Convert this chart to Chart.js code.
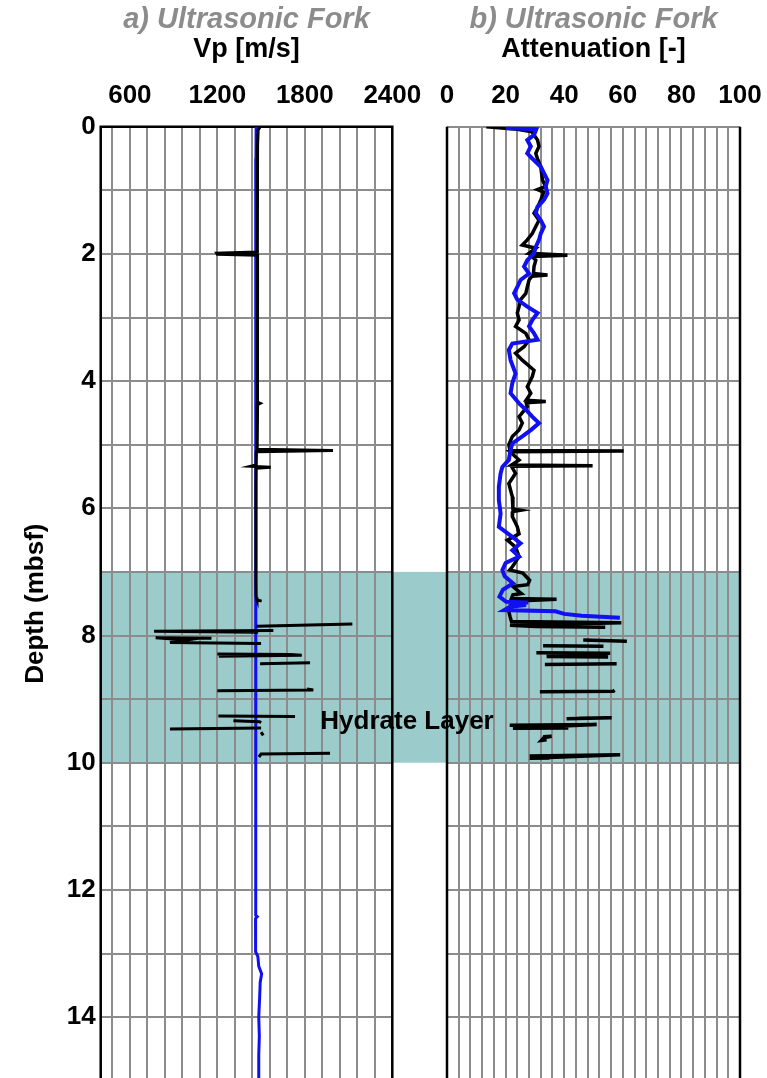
<!DOCTYPE html>
<html>
<head>
<meta charset="utf-8">
<script src="https://cdn.jsdelivr.net/npm/chart.js@4.4.1/dist/chart.umd.min.js"></script>
<style>
html, body { margin: 0; padding: 0; background: #fff; overflow: hidden; }
#wrap { position: relative; width: 767px; height: 1078px; overflow: hidden; }
canvas { position: absolute; top: 0; }
#vp { left: 0; }
#att { left: 300px; }
</style>
</head>
<body>
<div id="wrap">
  <canvas id="vp" width="447" height="1082"></canvas>
  <canvas id="att" width="467" height="1082"></canvas>
</div>
<script>
// Ultrasonic fork logs: Vp and attenuation vs depth

const FONT = '"Liberation Sans", Arial, sans-serif';
const GRID = '#8c8c8c';
const BAND = '#9ccbcb';
const BLUE = '#1010f0';

const depthTicks = [0, 1, 2, 3, 4, 5, 6, 7, 8, 9, 10, 11, 12, 13, 14, 15];
const depthLabels = [0, 2, 4, 6, 8, 10, 12, 14];
const vpTicks = [400, 480, 600, 720, 840, 960, 1080, 1200, 1320, 1440, 1560, 1680, 1800, 1920, 2040, 2160, 2280, 2400];
const vpLabels = [600, 1200, 1800, 2400];
const attTicks = [0, 4, 8, 12, 16, 20, 24, 28, 32, 36, 40, 44, 48, 52, 56, 60, 64, 68, 72, 76, 80, 84, 88, 92, 96, 100];
const attLabels = [0, 20, 40, 60, 80, 100];
const hydrateLayer = [7, 10];

// [depth (mbsf), value]; null breaks the line
const vpBlue = [
    [0, 1466], [0.5, 1465], [1, 1464], [1.5, 1465], [2, 1464], [2.5, 1463], [3, 1464], [3.5, 1463],
    [4, 1464], [4.5, 1463], [5, 1462], [5.5, 1463], [6, 1463], [6.5, 1462], [7, 1463], [7.5, 1464],
    [8, 1464], [8.5, 1465], [9, 1465], [9.5, 1464], [10, 1463], [10.5, 1462], [11, 1463], [11.5, 1461],
    [12, 1462], [12.4, 1463], [12.42, 1474], [12.45, 1462], [12.8, 1462], [12.97, 1463], [13.05, 1478],
    [13.2, 1484], [13.32, 1504], [13.45, 1494], [13.7, 1490], [14, 1484], [14.3, 1488], [14.6, 1484], [15, 1484]
];

const vpBlack = [
    [0, 1494], [0.05, 1480], [0.3, 1476], [0.8, 1475], [1.4, 1474], [1.97, 1475], [1.99, 1196], [2.005, 1200],
    [2.02, 1476], [2.5, 1476], [3.0, 1475], [3.6, 1476], [4.2, 1475], [4.33, 1476], [4.35, 1494], [4.37, 1476],
    [4.8, 1474], [5.07, 1473], [5.09, 1993], [5.11, 1468], [5.2, 1466], [5.32, 1466], [5.34, 1430], [5.355, 1566],
    [5.37, 1466], [5.6, 1465], [6.2, 1465], [6.8, 1464], [7.2, 1465], [7.40, 1466], [7.44, 1472], [7.46, 1504],
    null,
    [7.855, 1470], [7.82, 2126],
    null,
    [7.92, 1584], [7.935, 766], [7.95, 1480],
    null,
    [8.045, 1160], [8.035, 777], [8.07, 990], [8.11, 875], [8.125, 1500],
    null,
    [8.29, 1200], [8.30, 1700], [8.31, 1779], [8.325, 1210],
    null,
    [8.445, 1493], [8.43, 1836],
    null,
    [8.87, 1200], [8.855, 1858], [8.84, 1815],
    null,
    [9.265, 1207], [9.275, 1733],
    null,
    [9.34, 1310], [9.355, 1490], [9.37, 1500],
    null,
    [9.47, 875], [9.455, 1500],
    null,
    [9.52, 1500], [9.57, 1515],
    null,
    [9.91, 1485], [9.865, 1500], [9.85, 1973]
];

const attBlue = [
    [0.02, 20], [0.04, 30.5], [0.13, 29.7], [0.21, 27.4], [0.31, 28.6], [0.42, 27.4], [0.50, 29.1], [0.63, 32],
    [0.73, 33.1], [0.84, 34.3], [0.94, 33.7], [1.05, 34.3], [1.15, 33.1], [1.26, 30.9], [1.36, 30.3], [1.47, 32],
    [1.57, 33.1], [1.68, 32], [1.78, 31.4], [1.89, 30.3], [1.99, 29.7], [2.10, 27.4], [2.20, 26.3], [2.31, 28],
    [2.41, 25.1], [2.52, 24], [2.62, 22.9], [2.72, 24], [2.83, 27.4], [2.93, 30.9], [3.04, 29.1], [3.14, 28],
    [3.25, 29.7], [3.35, 30.9], [3.41, 22.3], [3.51, 21.1], [3.67, 21.7], [3.88, 23.4], [4.03, 22.3], [4.19, 21.7],
    [4.35, 24.6], [4.45, 26.9], [4.56, 29.1], [4.66, 31.4], [4.77, 28.6], [4.87, 25.7], [4.98, 22.3], [5.08, 21.7],
    [5.24, 21.1], [5.35, 18.9], [5.45, 18.3], [5.66, 17.7], [5.87, 17.7], [6.08, 18.3], [6.29, 17.7], [6.45, 22.3],
    [6.55, 25.1], [6.66, 22.3], [6.76, 24.6], [6.86, 20], [6.97, 18.9], [7.07, 19.7], [7.18, 22.5], [7.28, 19.1],
    [7.39, 17.9], [7.47, 20.2], [7.48, 27.7], [7.50, 21], [7.52, 27], [7.55, 21.4], [7.60, 19.5], [7.62, 37],
    [7.66, 40], [7.69, 46], [7.72, 59]
];

const attBlack = [
    [0.0, 13.4], [0.04, 24], [0.08, 29], [0.13, 29.7], [0.21, 30.9], [0.31, 31.4], [0.42, 30.3], [0.52, 31],
    [0.63, 32], [0.74, 32.3], [0.84, 32.6], [0.94, 33.7], [0.99, 30.9], [1.03, 33], [1.15, 32], [1.26, 31],
    [1.36, 29.7], [1.47, 31.4], [1.57, 30.3], [1.68, 29.1], [1.78, 27.4], [1.86, 25.7], [1.91, 30.3], [1.99, 28],
    [2.02, 41.1], [2.04, 29], [2.10, 30.3], [2.20, 29.7], [2.31, 29.5], [2.33, 34.3], [2.35, 29], [2.41, 28],
    [2.52, 27.4], [2.62, 26.9], [2.72, 25.1], [2.83, 24.6], [2.93, 24], [3.04, 24.6], [3.14, 23.4], [3.25, 26.9],
    [3.35, 28], [3.46, 26.3], [3.56, 23.4], [3.67, 25.7], [3.83, 29.7], [3.93, 29.1], [4.09, 27.4], [4.19, 28.6],
    [4.30, 27], [4.32, 33.7], [4.34, 27], [4.40, 27.4], [4.56, 24.6], [4.66, 25.7], [4.77, 24.6], [4.87, 22.3],
    [5.0, 21.1], [5.09, 21.5], [5.10, 60.3], [5.11, 21.5], [5.24, 24.6], [5.32, 22], [5.33, 49.7], [5.34, 22],
    [5.45, 23.4], [5.61, 21.1], [5.82, 22.3], [6.01, 22.5], [6.03, 25.1], [6.05, 22.5], [6.13, 22.3], [6.29, 24],
    [6.40, 24.6], [6.50, 20.6], [6.61, 23.4], [6.76, 24.6], [6.92, 22.3], [6.97, 21.4], [7.02, 25.9], [7.13, 28.2],
    [7.20, 27.6], [7.23, 22.5], [7.34, 25.4], [7.36, 22.5], [7.42, 22], [7.43, 37.4], [7.46, 22], [7.52, 22.5],
    [7.60, 21], [7.70, 21.5], [7.78, 22], [7.80, 59.5], [7.84, 21.5], [7.86, 30], [7.87, 54],
    null,
    [8.07, 46.5], [8.09, 61.4],
    null,
    [8.16, 32.8], [8.17, 53.4],
    null,
    [8.27, 30.5], [8.28, 55.7], [8.33, 34], [8.34, 55],
    null,
    [8.455, 33.4], [8.445, 57.9],
    null,
    [8.885, 31.7], [8.875, 56.8], [8.86, 57.2],
    null,
    [9.31, 40.8], [9.295, 56.2], [9.30, 45],
    null,
    [9.41, 21.4], [9.40, 51.1], [9.46, 22.5], [9.455, 41.4],
    null,
    [9.59, 32.8], [9.585, 35.7], [9.61, 33], [9.65, 32.2], [9.64, 34],
    null,
    [9.895, 28.2], [9.875, 59.1], [9.93, 28.2], [9.925, 35]
];

function toPoints(rows) {
    return rows.map(r => r ? { x: r[1], y: r[0] } : { x: null, y: null });
}

const bandPlugin = {
    id: 'band',
    beforeDraw(chart, args, opts) {
        const { ctx, chartArea, scales: { y } } = chart;
        const y0 = y.getPixelForValue(hydrateLayer[0]);
        const y1 = y.getPixelForValue(hydrateLayer[1]);
        const right = opts.toEdge ? chart.width : chartArea.right;
        ctx.save();
        ctx.fillStyle = BAND;
        ctx.fillRect(chartArea.left, y0, right - chartArea.left, y1 - y0);
        ctx.restore();
    }
};

const framePlugin = {
    id: 'frame',
    beforeDatasetsDraw(chart, args, opts) {
        const { ctx, chartArea: a } = chart;
        ctx.save();
        ctx.strokeStyle = '#000';
        ctx.lineWidth = 2.5;
        ctx.beginPath();
        ctx.moveTo(a.left, a.top);
        ctx.lineTo(a.left, a.bottom);
        ctx.moveTo(a.right, a.top);
        ctx.lineTo(a.right, a.bottom);
        if (opts.top) {
            ctx.moveTo(a.left - 1.25, a.top);
            ctx.lineTo(a.right + 1.25, a.top);
        }
        ctx.stroke();
        ctx.restore();
    }
};

const labelPlugin = {
    id: 'layerLabel',
    afterDatasetsDraw(chart, args, opts) {
        if (!opts.text) return;
        const { ctx, chartArea, scales: { y } } = chart;
        ctx.save();
        ctx.font = 'bold 26px ' + FONT;
        ctx.fillStyle = '#000';
        ctx.textAlign = 'center';
        ctx.textBaseline = 'middle';
        ctx.fillText(opts.text, chartArea.left + opts.dx, y.getPixelForValue(opts.depth));
        ctx.restore();
    }
};

function font(extra) {
    return Object.assign({ family: FONT, size: 26, weight: 'bold' }, extra);
}

// keep the plot area exactly where the axes are forced to be
function noPadding(s) {
    s.paddingTop = 0;
    s.paddingBottom = 0;
    s.paddingLeft = 0;
    s.paddingRight = 0;
}

function logOptions(cfg) {
    return {
        responsive: false,
        animation: false,
        events: [],
        layout: { padding: { right: cfg.padRight, bottom: 1.3 } },
        plugins: {
            legend: { display: false },
            tooltip: { enabled: false },
            title: {
                display: true, text: cfg.title, fullSize: false, color: '#8c8c8c',
                font: font({ size: 29, style: 'italic', lineHeight: 1 }), padding: { top: 5, bottom: 0 }
            },
            subtitle: {
                display: true, text: cfg.unit, fullSize: false, color: '#000',
                font: font({ size: 27, lineHeight: 1 }), padding: { top: 2, bottom: 0 }
            },
            band: { toEdge: cfg.bandToEdge },
            frame: { top: cfg.frameTop },
            layerLabel: cfg.label || {}
        },
        scales: {
            x: {
                type: 'linear',
                position: 'top',
                min: cfg.xTicks[0],
                max: cfg.xTicks[cfg.xTicks.length - 1],
                afterBuildTicks: s => { s.ticks = cfg.xTicks.map(v => ({ value: v })); },
                afterFit: s => { s.height = 63.7; noPadding(s); },
                grid: { color: GRID, lineWidth: 2, drawTicks: false },
                border: { display: false },
                ticks: {
                    autoSkip: false, maxRotation: 0, minRotation: 0, padding: 15, color: '#000', font: font(),
                    callback: v => cfg.xLabels.includes(v) ? String(v) : ''
                }
            },
            y: {
                type: 'linear',
                reverse: true,
                min: 0,
                max: 15,
                afterBuildTicks: s => { s.ticks = depthTicks.map(v => ({ value: v })); },
                afterFit: s => { s.width = cfg.yWidth; noPadding(s); },
                grid: { color: GRID, lineWidth: 2, drawTicks: false },
                border: { display: false },
                ticks: {
                    display: cfg.yLabels, autoSkip: false, padding: 5, color: '#000', font: font(),
                    callback: v => depthLabels.includes(v) ? String(v) : ''
                },
                title: {
                    display: cfg.yLabels, text: 'Depth (mbsf)', color: '#000', font: font(),
                    padding: { top: 20, bottom: 0 }
                }
            }
        }
    };
}

new Chart(document.getElementById('vp'), {
    type: 'scatter',
    data: {
        datasets: [{
            data: toPoints(vpBlack),
            showLine: true,
            borderColor: '#000',
            borderWidth: 3,
            pointRadius: 0
        }, {
            data: toPoints(vpBlue),
            showLine: true,
            borderColor: BLUE,
            borderWidth: 3,
            pointRadius: 0
        }]
    },
    options: logOptions({
        title: 'a) Ultrasonic Fork', unit: 'Vp [m/s]',
        xTicks: vpTicks, xLabels: vpLabels,
        padRight: 54.7, yWidth: 100.7, yLabels: true,
        bandToEdge: true, frameTop: true
    }),
    plugins: [bandPlugin, framePlugin]
});

new Chart(document.getElementById('att'), {
    type: 'scatter',
    data: {
        datasets: [{
            data: toPoints(attBlue),
            showLine: true,
            borderColor: BLUE,
            borderWidth: 4,
            pointRadius: 0
        }, {
            data: toPoints(attBlack),
            showLine: true,
            borderColor: '#000',
            borderWidth: 3.5,
            pointRadius: 0
        }]
    },
    options: logOptions({
        title: 'b) Ultrasonic Fork', unit: 'Attenuation [-]',
        xTicks: attTicks, xLabels: attLabels,
        padRight: 27, yWidth: 147, yLabels: false,
        bandToEdge: false, frameTop: false,
        label: { text: 'Hydrate Layer', depth: 9.36, dx: -40 }
    }),
    plugins: [bandPlugin, framePlugin, labelPlugin]
});
</script>
</body>
</html>
